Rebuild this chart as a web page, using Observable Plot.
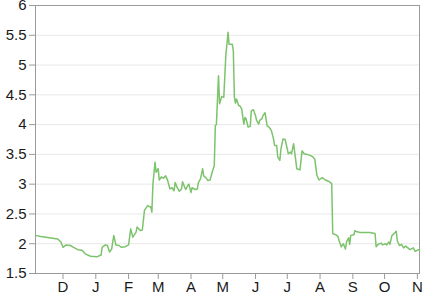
<!DOCTYPE html>
<html>
<head>
<meta charset="utf-8">
<script src="https://cdn.jsdelivr.net/npm/d3@7"></script>
<script src="https://cdn.jsdelivr.net/npm/@observablehq/plot@0.6"></script>
<style>
  html, body { margin: 0; padding: 0; background: #fff; }
  #chart svg text { fill: #1a1a1a; }
</style>
</head>
<body>
<div id="chart"></div>
<script>
// Data: days after the start date, and the value on that day
const startDate = "2018-11-01";
const dayOffsets = [4, 9, 17, 25, 28, 30, 33, 37, 40, 44, 48, 51, 56, 62, 66, 67, 70, 72, 74, 76, 78, 80, 83, 85, 89, 92, 94, 96, 99, 100, 103, 105, 107, 110, 112, 113, 114, 115, 117, 118, 120, 121, 123, 125, 127, 129, 131, 133, 135, 136, 138, 140, 142, 143, 145, 146, 148, 149, 151, 152, 155, 157, 158, 160, 162, 163, 165, 167, 169, 171, 173, 174, 175, 177, 178, 180, 182, 184, 185, 186, 187, 190, 191, 192, 193, 194, 196, 197, 199, 200, 201, 202, 203, 205, 207, 208, 210, 212, 213, 215, 216, 218, 219, 221, 223, 224, 226, 227, 229, 230, 232, 233, 235, 236, 238, 240, 242, 243, 245, 246, 248, 249, 251, 254, 255, 256, 258, 261, 264, 266, 268, 270, 272, 275, 278, 281, 284, 285, 288, 290, 291, 293, 295, 297, 298, 300, 301, 302, 305, 306, 308, 311, 316, 320, 325, 326, 328, 331, 332, 335, 336, 338, 339, 341, 343, 345, 346, 348, 350, 352, 354, 356, 358, 361, 363, 366, 367];
const values = [2.14, 2.12, 2.10, 2.08, 2.03, 1.94, 1.98, 1.97, 1.94, 1.90, 1.89, 1.83, 1.79, 1.78, 1.81, 1.94, 1.98, 1.97, 1.86, 1.91, 2.14, 1.98, 1.97, 1.94, 1.95, 1.98, 2.25, 2.11, 2.19, 2.28, 2.22, 2.23, 2.56, 2.64, 2.62, 2.62, 2.53, 3.00, 3.37, 3.20, 3.26, 3.07, 3.12, 3.10, 3.14, 3.06, 2.92, 2.94, 2.89, 3.03, 2.94, 2.88, 2.92, 3.04, 2.95, 2.91, 2.98, 3.00, 2.86, 2.94, 2.91, 2.92, 3.03, 3.09, 3.26, 3.14, 3.11, 3.06, 3.07, 3.20, 3.31, 3.98, 4.00, 4.82, 4.35, 4.47, 4.46, 5.19, 5.35, 5.55, 5.35, 5.35, 5.24, 4.46, 4.36, 4.43, 4.32, 4.32, 4.26, 4.12, 4.01, 4.12, 4.10, 3.96, 3.97, 4.23, 4.25, 4.15, 4.07, 4.01, 4.07, 4.10, 4.15, 4.20, 3.98, 3.97, 3.93, 3.90, 3.76, 3.65, 3.65, 3.46, 3.40, 3.59, 3.76, 3.75, 3.59, 3.51, 3.54, 3.51, 3.68, 3.54, 3.26, 3.24, 3.40, 3.56, 3.51, 3.50, 3.48, 3.46, 3.42, 3.15, 3.07, 3.11, 3.07, 3.05, 3.01, 2.17, 2.15, 2.12, 2.05, 1.95, 2.00, 1.91, 2.03, 2.10, 1.99, 2.14, 2.15, 2.22, 2.20, 2.19, 2.19, 2.19, 2.17, 1.95, 1.99, 2.01, 1.98, 2.00, 1.98, 2.03, 1.99, 2.14, 2.17, 2.21, 2.05, 1.97, 1.99, 1.93, 1.96, 1.93, 1.90, 1.93, 1.87, 1.90, 1.89];

// Axis ticks
const monthTicks = ["2018-12-01", "2019-01-01", "2019-02-01", "2019-03-01", "2019-04-01", "2019-05-01", "2019-06-01", "2019-07-01", "2019-08-01", "2019-09-01", "2019-10-01", "2019-11-01"];
const monthLabels = ["D", "J", "F", "M", "A", "M", "J", "J", "A", "S", "O", "N"];
const yTicks = [1.5, 2, 2.5, 3, 3.5, 4, 4.5, 5, 5.5, 6];

const start = new Date(startDate + "T00:00:00Z");
const table = dayOffsets.map((d, i) => ({date: d3.utcDay.offset(start, d), value: values[i]}));
const tickDates = monthTicks.map(s => new Date(s + "T00:00:00Z"));
const labelOf = new Map(tickDates.map((d, i) => [+d, monthLabels[i]]));

const chart = Plot.plot({
  width: 433,
  height: 294,
  marginLeft: 35,
  marginRight: 14,
  marginTop: 5,
  marginBottom: 21,
  style: {fontFamily: "'Liberation Sans', Arial, sans-serif", fontSize: "15px", color: "#9a9a9a", background: "#fff", overflow: "visible"},
  x: {type: "utc", domain: d3.extent(table, d => d.date), ticks: tickDates, tickFormat: d => labelOf.get(+d), label: null, tickSize: 6, tickPadding: 2},
  y: {domain: [1.5, 6], ticks: yTicks, tickFormat: d => String(d), label: null, tickSize: 6, tickPadding: 3},
  marks: [
    Plot.ruleY(yTicks, {stroke: "#e8e8e8"}),
    Plot.frame({stroke: "#9a9a9a"}),
    Plot.lineY(table, {x: "date", y: "value", stroke: "#7cc36c", strokeWidth: 1.5})
  ]
});
document.getElementById("chart").appendChild(chart);
</script>
</body>
</html>
